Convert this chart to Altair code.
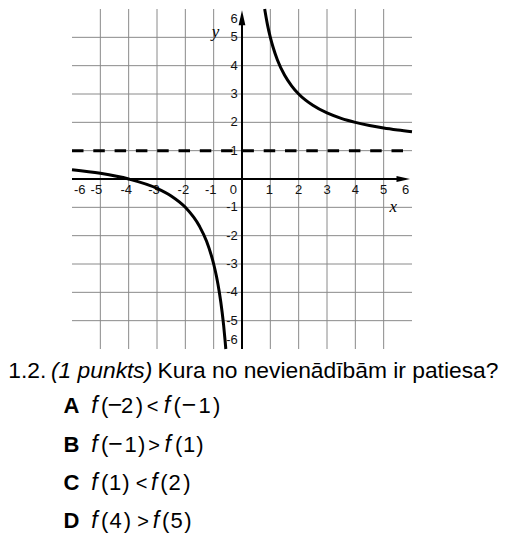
import altair as alt
import pandas as pd

# ---------------- data ----------------
X_TICKS = [-6, -5, -4, -3, -2, -1, 0, 1, 2, 3, 4, 5, 6]
X_LABELS = ["-6", "-5", "-4", "-3", "-2", "-1", "0", "1", "2", "3", "4", "5", "6"]
Y_TICKS = [6, 5, 4, 3, 2, 1, -1, -2, -3, -4, -5, -6]
Y_LABELS = ["6", "5", "4", "3", "2", "1", "-1", "-2", "-3", "-4", "-5", "-6"]
GRID = [-5, -4, -3, -2, -1, 1, 2, 3, 4, 5]
AXIS_MIN, AXIS_MAX = -6, 6
ASYMPTOTE_Y = 1
ARROW_X_TIP = 5.93
ARROW_Y_TIP = 5.96

RIGHT_X = [0.8, 0.85, 0.9, 1.0, 1.1, 1.25, 1.5, 1.75, 2.0, 2.5, 3.0, 3.5, 4.0, 4.5, 5.0, 5.5, 6.0]
RIGHT_Y = [6.0, 5.71, 5.44, 5.0, 4.64, 4.2, 3.67, 3.29, 3.0, 2.6, 2.33, 2.14, 2.0, 1.89, 1.8, 1.73, 1.67]
LEFT_X = [-6.0, -5.0, -4.0, -3.0, -2.5, -2.0, -1.5, -1.25, -1.0, -0.9, -0.8, -0.7, -0.65, -0.6, -0.571]
LEFT_Y = [0.33, 0.2, 0.0, -0.33, -0.6, -1.0, -1.67, -2.2, -3.0, -3.44, -4.0, -4.71, -5.15, -5.67, -6.0]

QUESTION_NUM = "1.2."
QUESTION_ITALIC = "(1 punkts)"
QUESTION_TEXT = "Kura no nevienādībām ir patiesa?"
OPTION_LETTERS = ["A", "B", "C", "D"]
OPTION_TOKENS = [
    ["f", "(", "−", "2", ")", "<", "f", "(", "−", "1", ")"],
    ["f", "(", "−", "1", ")", ">", "f", "(", "1", ")"],
    ["f", "(", "1", ")", "<", "f", "(", "2", ")"],
    ["f", "(", "4", ")", ">", "f", "(", "5", ")"],
]

# ---------------- layout (pixels of the page) ----------------
W, H = 492, 530
U = 340 / 12.0
XMIN = -6 - (72 - 8) / U
XMAX = XMIN + W / U
YMAX = 6 + (9 - 8) / U
YMIN = YMAX - H / U


def px_x(p):
    return XMIN + (p - 8) / U


def px_y(p):
    return YMAX - (p - 8) / U


X_LABEL_DX = [7.7, -4.0, -2.4, -3.0, -2.0, -3.0, -8.7, -1.0, 0, 0, 0, 0, -6.3]
Y_LABEL_DY = [9.7, 0, 0, 0, 0, 0, 0, 0, 0, 0, 0, -8.7]
OPTION_CENTERS = [
    [94.5, 104.7, 115.0, 127.2, 139.5, 152.5, 167.0, 177.2, 189.0, 204.5, 216.7],
    [94.5, 104.7, 115.5, 130.5, 141.7, 154.0, 167.8, 178.7, 189.2, 200.0],
    [94.5, 104.7, 115.2, 126.0, 141.5, 154.3, 164.0, 174.5, 187.0],
    [94.5, 104.7, 115.5, 127.5, 143.2, 156.0, 165.7, 176.5, 188.0],
]
OPTION_BASELINES = [413.3, 451.6, 489.9, 528.2]
LETTER_CENTER = 71.5

xs = alt.Scale(domain=[XMIN, XMAX], nice=False, zero=False)
ys = alt.Scale(domain=[YMIN, YMAX], nice=False, zero=False)


def X(f):
    return alt.X(f, type="quantitative", scale=xs, axis=None)


def Y(f):
    return alt.Y(f, type="quantitative", scale=ys, axis=None)


GRID_COLOR = "#8a8a8a"

vgrid = alt.Chart(pd.DataFrame({"x": GRID, "y0": AXIS_MIN, "y1": AXIS_MAX})).mark_rule(
    color=GRID_COLOR, strokeWidth=1
).encode(x=X("x"), y=Y("y0"), y2="y1")

hgrid = alt.Chart(pd.DataFrame({"y": GRID, "x0": AXIS_MIN, "x1": AXIS_MAX})).mark_rule(
    color=GRID_COLOR, strokeWidth=1
).encode(y=Y("y"), x=X("x0"), x2="x1")

xaxis = alt.Chart(pd.DataFrame({"y": [0], "x0": [AXIS_MIN], "x1": [ARROW_X_TIP - 0.2]})).mark_rule(
    color="black", strokeWidth=2
).encode(y=Y("y"), x=X("x0"), x2="x1")

yaxis = alt.Chart(pd.DataFrame({"x": [0], "y0": [AXIS_MIN], "y1": [ARROW_Y_TIP - 0.2]})).mark_rule(
    color="black", strokeWidth=2
).encode(x=X("x"), y=Y("y0"), y2="y1")

XL = 13.5
YL = 15.0
arrow_x = alt.Chart(pd.DataFrame({"x": [ARROW_X_TIP - XL / 2 / U], "y": [0]})).mark_point(
    shape="M-1,-0.45L1,0L-1,0.45Z", size=XL * XL, filled=True, color="black", opacity=1, strokeWidth=0
).encode(x=X("x"), y=Y("y"))

arrow_y = alt.Chart(pd.DataFrame({"x": [0], "y": [ARROW_Y_TIP - YL / 2 / U]})).mark_point(
    shape="M-0.45,1L0,-1L0.45,1Z", size=YL * YL, filled=True, color="black", opacity=1, strokeWidth=0
).encode(x=X("x"), y=Y("y"))

xlab_df = pd.DataFrame({
    "x": [t + d / U for t, d in zip(X_TICKS, X_LABEL_DX)],
    "y": [-11.3 / U] * len(X_TICKS),
    "t": X_LABELS,
})
xlabels = alt.Chart(xlab_df).mark_text(
    font="Liberation Sans", fontSize=13, align="center", baseline="middle", color="#111"
).encode(x=X("x"), y=Y("y"), text="t:N")

ylab_df = pd.DataFrame({
    "x": [-4.3 / U] * len(Y_TICKS),
    "y": [t - d / U for t, d in zip(Y_TICKS, Y_LABEL_DY)],
    "t": Y_LABELS,
})
ylabels = alt.Chart(ylab_df).mark_text(
    font="Liberation Sans", fontSize=13, align="right", baseline="middle", color="#111"
).encode(x=X("x"), y=Y("y"), text="t:N")

axis_names = alt.Chart(pd.DataFrame({
    "x": [px_x(215.5), px_x(393.3)],
    "y": [px_y(31.5), px_y(207.0)],
    "t": ["y", "x"],
})).mark_text(
    font="Liberation Serif", fontStyle="italic", fontSize=17, align="center", baseline="middle", color="black"
).encode(x=X("x"), y=Y("y"), text="t:N")

asym = alt.Chart(pd.DataFrame({"y": [ASYMPTOTE_Y], "x0": [AXIS_MIN], "x1": [AXIS_MAX]})).mark_rule(
    color="black", strokeWidth=3, strokeDash=[11.5, 9.8]
).encode(y=Y("y"), x=X("x0"), x2="x1")

right = alt.Chart(pd.DataFrame({"x": RIGHT_X, "y": RIGHT_Y})).mark_line(
    color="black", strokeWidth=3, interpolate="monotone"
).encode(x=X("x"), y=Y("y"), order="x:Q")

left = alt.Chart(pd.DataFrame({"x": LEFT_X, "y": LEFT_Y})).mark_line(
    color="black", strokeWidth=3, interpolate="monotone"
).encode(x=X("x"), y=Y("y"), order="x:Q")

# question line
QBASE = 378.3
QSIZE = 22.8
q1 = alt.Chart(pd.DataFrame({"x": [px_x(46.3)], "y": [px_y(QBASE)], "t": [QUESTION_NUM]})).mark_text(
    font="Liberation Sans", fontSize=QSIZE, align="right", baseline="alphabetic", color="black"
).encode(x=X("x"), y=Y("y"), text="t:N")
q2 = alt.Chart(pd.DataFrame({"x": [px_x(51.0)], "y": [px_y(QBASE)], "t": [QUESTION_ITALIC]})).mark_text(
    font="Liberation Sans", fontSize=QSIZE, fontStyle="italic", align="left", baseline="alphabetic", color="black"
).encode(x=X("x"), y=Y("y"), text="t:N")
q3 = alt.Chart(pd.DataFrame({"x": [px_x(157.5)], "y": [px_y(QBASE)], "t": [QUESTION_TEXT]})).mark_text(
    font="Liberation Sans", fontSize=QSIZE, align="left", baseline="alphabetic", color="black"
).encode(x=X("x"), y=Y("y"), text="t:N")

letters = alt.Chart(pd.DataFrame({
    "x": [px_x(LETTER_CENTER)] * len(OPTION_LETTERS),
    "y": [px_y(b) for b in OPTION_BASELINES],
    "t": OPTION_LETTERS,
})).mark_text(
    font="Liberation Sans", fontSize=22, fontWeight="bold", align="center", baseline="alphabetic", color="black"
).encode(x=X("x"), y=Y("y"), text="t:N")

rows = []
for toks, cents, base in zip(OPTION_TOKENS, OPTION_CENTERS, OPTION_BASELINES):
    for tk, c in zip(toks, cents):
        kind = "f" if tk == "f" else ("op" if tk in ("<", ">") else ("m" if tk == "−" else "n"))
        rows.append({"x": px_x(c), "y": px_y(base), "t": tk, "k": kind})
tok_df = pd.DataFrame(rows)

tok_f = alt.Chart(tok_df[tok_df.k == "f"]).mark_text(
    font="Liberation Sans", fontSize=23, fontStyle="italic", align="center", baseline="alphabetic", color="black"
).encode(x=X("x"), y=Y("y"), text="t:N")
tok_n = alt.Chart(tok_df[tok_df.k == "n"]).mark_text(
    font="Liberation Sans", fontSize=22, align="center", baseline="alphabetic", color="black"
).encode(x=X("x"), y=Y("y"), text="t:N")
tok_m = alt.Chart(tok_df[tok_df.k == "m"]).mark_text(
    font="Liberation Sans", fontSize=25, align="center", baseline="alphabetic", color="black"
).encode(x=X("x"), y=Y("y"), text="t:N")
tok_op = alt.Chart(tok_df[tok_df.k == "op"]).mark_text(
    font="Liberation Sans", fontSize=20, align="center", baseline="alphabetic", color="black"
).encode(x=X("x"), y=Y("y"), text="t:N")

chart = alt.layer(
    vgrid, hgrid, xlabels, ylabels, axis_names, xaxis, yaxis, arrow_x, arrow_y,
    asym, right, left, q1, q2, q3, letters, tok_f, tok_n, tok_m, tok_op
).properties(
    width=W, height=H, padding=0, autosize=alt.AutoSizeParams(type="none"), background="white"
).configure_view(stroke=None)

chart.save("out.html", embed_options={"renderer": "svg", "actions": False})
